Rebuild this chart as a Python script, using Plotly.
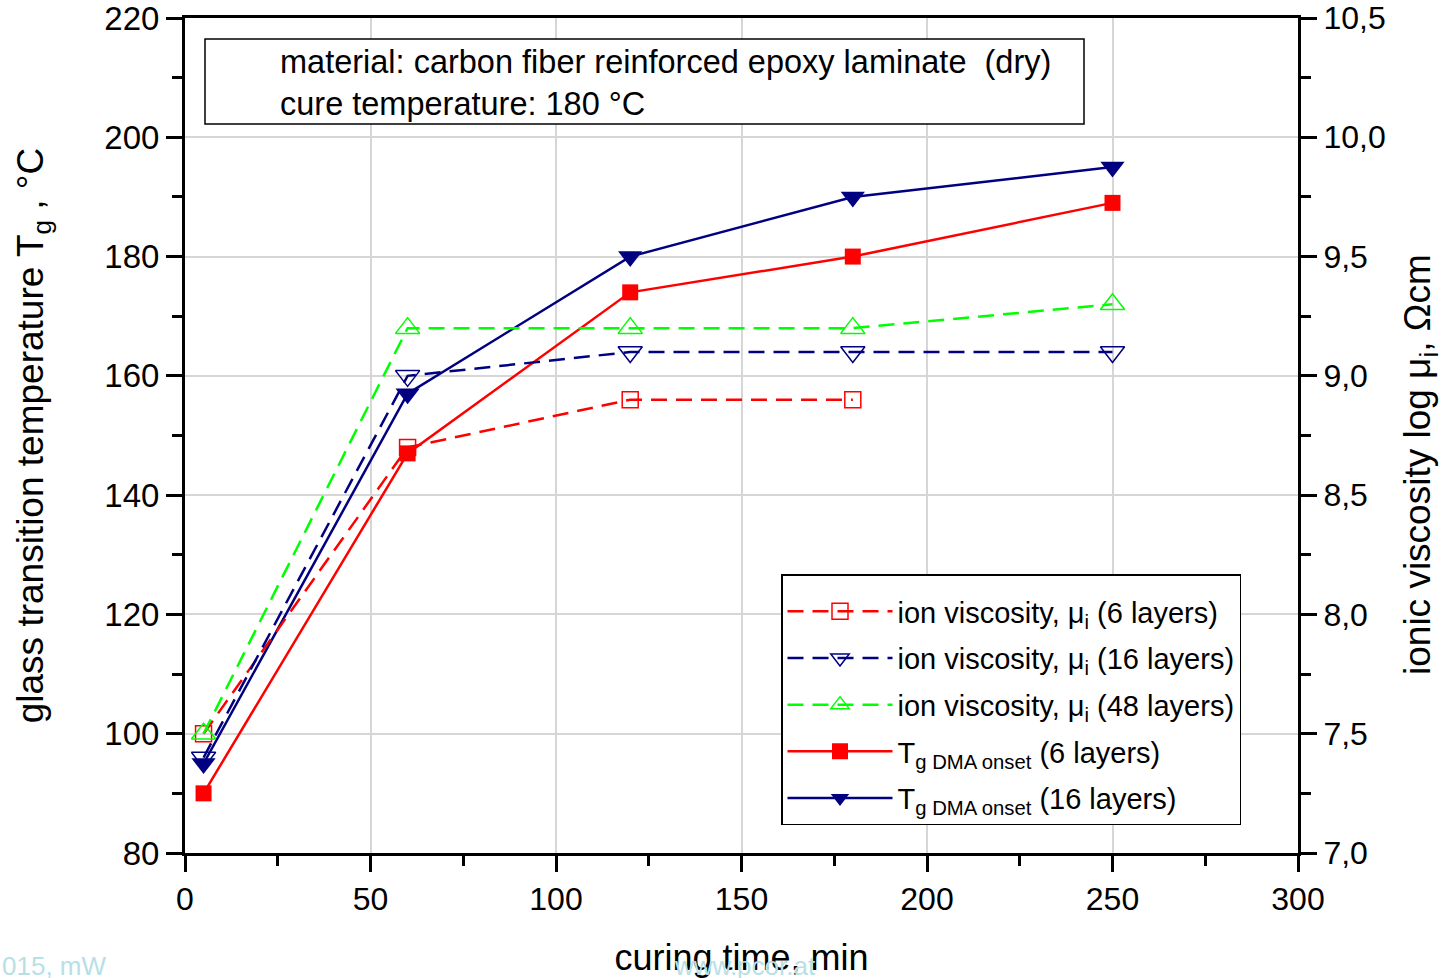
import plotly.graph_objects as go

# ---- data ----
time_tg = [5, 60, 120, 180, 250]
tg_6 = [90, 147, 174, 180, 189]
tg_16 = [95, 157, 180, 190, 195]

time_iv6 = [5, 60, 120, 180]
iv_6 = [7.50, 8.70, 8.90, 8.90]
time_iv = [5, 60, 120, 180, 250]
iv_16 = [7.40, 9.00, 9.10, 9.10, 9.10]
iv_48 = [7.50, 9.20, 9.20, 9.20, 9.30]

x_ticks = [0, 50, 100, 150, 200, 250, 300]
y_ticks = [80, 100, 120, 140, 160, 180, 200, 220]
y2_ticks = [7.0, 7.5, 8.0, 8.5, 9.0, 9.5, 10.0, 10.5]

RED = "#ff0000"
NAVY = "#000080"
GREEN = "#00ff00"
FONT = "Liberation Sans, Arial, sans-serif"
DASH = "16px,9px"

fig = go.Figure()

fig.add_trace(go.Scatter(
    x=time_iv6, y=iv_6, yaxis="y2", mode="lines+markers", legendgroup="a",
    name="ion viscosity, μ<sub>i</sub> (6 layers)",
    line=dict(color=RED, width=2.5, dash=DASH),
    marker=dict(symbol="square-open", size=16, color=RED, line=dict(width=1.5, color=RED))))
fig.add_trace(go.Scatter(
    x=time_iv, y=iv_16, yaxis="y2", mode="lines+markers", legendgroup="b",
    name="ion viscosity, μ<sub>i</sub> (16 layers)",
    line=dict(color=NAVY, width=2.5, dash=DASH),
    marker=dict(symbol="triangle-down-open", size=21, color=NAVY, line=dict(width=1.5, color=NAVY))))
fig.add_trace(go.Scatter(
    x=time_iv, y=iv_48, yaxis="y2", mode="lines+markers", legendgroup="c",
    name="ion viscosity, μ<sub>i</sub> (48 layers)",
    line=dict(color=GREEN, width=2.5, dash=DASH),
    marker=dict(symbol="triangle-up-open", size=21, color=GREEN, line=dict(width=1.5, color=GREEN))))
fig.add_trace(go.Scatter(
    x=time_tg, y=tg_6, mode="lines+markers", legendgroup="d",
    name="T<sub>g DMA onset</sub> (6 layers)",
    line=dict(color=RED, width=2.5),
    marker=dict(symbol="square", size=16, color=RED)))
fig.add_trace(go.Scatter(
    x=time_tg, y=tg_16, mode="lines+markers", legendgroup="e",
    name="T<sub>g DMA onset</sub> (16 layers)",
    line=dict(color=NAVY, width=2.5),
    marker=dict(symbol="triangle-down", size=21, color=NAVY)))

axis_common = dict(
    showline=True, linecolor="black", linewidth=3,
    ticks="outside", tickcolor="black", tickwidth=3, ticklen=16,
    zeroline=False, automargin=False, ticklabeloverflow="allow",
)

fig.update_layout(
    width=1445, height=978,
    margin=dict(l=185, r=147, t=18, b=125),
    paper_bgcolor="white", plot_bgcolor="white",
    separators=",.",
    font=dict(family=FONT, color="black", size=30),
    showlegend=True,
    legend=dict(
        x=(781 - 185) / 1113, y=(853 - 574) / 835, xanchor="left", yanchor="top",
        bgcolor="white", bordercolor="black", borderwidth=1.5,
        font=dict(family=FONT, size=29, color="black"),
        title=dict(text="&nbsp;", font=dict(size=8)),
        tracegroupgap=6, itemwidth=105,
    ),
    xaxis=dict(
        **axis_common,
        range=[0, 300], tickmode="array", tickvals=x_ticks,
        tickfont=dict(size=32),
        mirror=True,
        showgrid=True, gridcolor="#d6d6d6", gridwidth=1.5,
        minor=dict(dtick=25, ticks="outside", ticklen=10, tickwidth=3, tickcolor="black", showgrid=False),
        title=dict(text="curing time, min", font=dict(size=36), standoff=40),
    ),
    yaxis=dict(
        **axis_common,
        range=[80, 220], tickmode="array", tickvals=y_ticks,
        tickfont=dict(size=33),
        showgrid=True, gridcolor="#d6d6d6", gridwidth=1.5,
        minor=dict(dtick=10, ticks="outside", ticklen=10, tickwidth=3, tickcolor="black", showgrid=False),
        title=dict(text="glass transition temperature T<sub>g</sub> , °C", font=dict(size=37), standoff=50),
    ),
    yaxis2=dict(
        **axis_common,
        overlaying="y", side="right",
        range=[7.0, 10.5], tickmode="array", tickvals=y2_ticks, tickformat=".1f",
        tickfont=dict(size=32),
        showgrid=False,
        minor=dict(dtick=0.25, ticks="outside", ticklen=10, tickwidth=3, tickcolor="black", showgrid=False),
    ),
)

# right axis title (placed slightly below the axis centre, as in the reference)
fig.add_annotation(
    xref="paper", yref="paper", x=(1420 - 185) / 1113, y=(853 - 465) / 835,
    xanchor="center", yanchor="middle", textangle=-90, showarrow=False,
    text="ionic viscosity log μ<sub>i</sub>, Ωcm",
    font=dict(family=FONT, size=37, color="black"))

# info box
fig.add_shape(type="rect", xref="paper", yref="paper",
              x0=(205 - 185) / 1113, x1=(1084 - 185) / 1113,
              y0=(853 - 124) / 835, y1=(853 - 39) / 835,
              line=dict(color="black", width=1.5), fillcolor="white", layer="above")
fig.add_annotation(
    xref="paper", yref="paper", x=(278 - 185) / 1113, y=(853 - 83) / 835,
    xanchor="left", yanchor="middle", align="left", showarrow=False,
    text="material: carbon fiber reinforced epoxy laminate&nbsp;&nbsp;(dry)<br>cure temperature: 180 °C",
    font=dict(family=FONT, size=32.5, color="black"))

# watermarks
fig.add_annotation(xref="paper", yref="paper", x=-185 / 1113, y=-(966 - 853) / 835,
                   xanchor="left", yanchor="middle", showarrow=False,
                   text="015, mW", font=dict(family=FONT, size=26, color="#b7e0e6"))
fig.add_annotation(xref="paper", yref="paper", x=(745 - 185) / 1113, y=-(966 - 853) / 835,
                   xanchor="center", yanchor="middle", showarrow=False,
                   text="www.pcor.at", font=dict(family=FONT, size=26, color="#b7e0e6"))

fig.write_html("out.html")
